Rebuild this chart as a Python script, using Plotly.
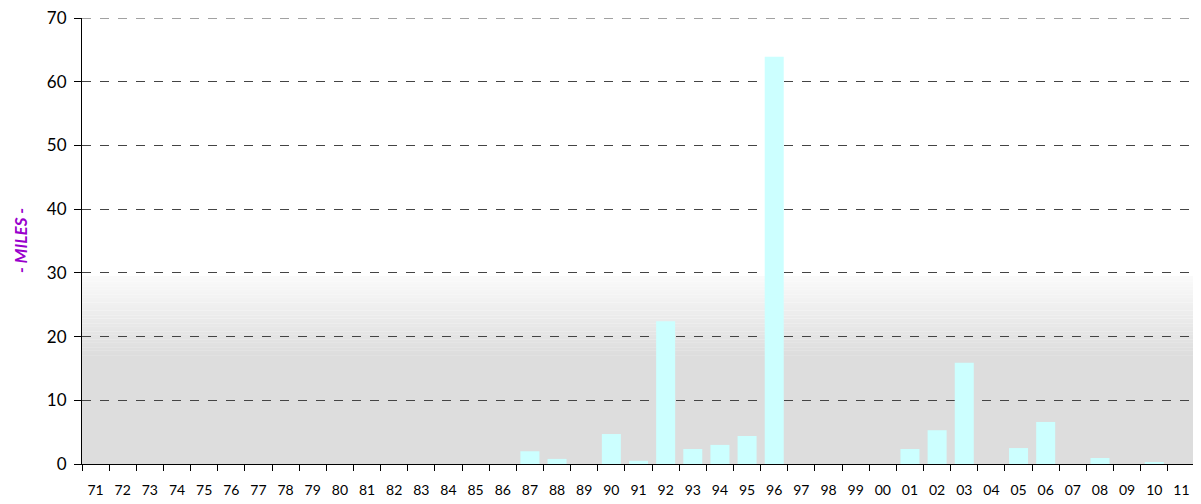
import plotly.graph_objects as go

years = ["71","72","73","74","75","76","77","78","79","80","81","82","83","84","85","86",
         "87","88","89","90","91","92","93","94","95","96","97","98","99",
         "00","01","02","03","04","05","06","07","08","09","10","11"]
miles = [0,0,0,0,0,0,0,0,0,0,0,0,0,0,0,0,
         2.0,0.8,0,4.7,0.5,22.4,2.35,3.0,4.4,63.9,0,0,0,
         0,2.35,5.3,15.9,0,2.5,6.6,0,0.94,0,0.3,0]
y_ticks = [0,10,20,30,40,50,60,70]

fig = go.Figure()
fig.add_trace(go.Bar(x=years, y=miles, marker=dict(color="#CCFFFF", line=dict(width=0)),
                     hoverinfo="x+y"))

# gradient background in lower part of plot area
shapes = []
n = 30
y0v, y1v = 17.0, 29.5
top_c, bot_c = 250, 221
for i in range(n):
    a = y0v + (y1v - y0v) * i / n
    b = y0v + (y1v - y0v) * (i + 1) / n
    t = (i + 0.5) / n
    c = int(round(bot_c + (top_c - bot_c) * t))
    shapes.append(dict(type="rect", xref="paper", yref="y", x0=0, x1=1, y0=a, y1=b + 0.02,
                       fillcolor=f"rgb({c},{c},{c})", line=dict(width=0), layer="below"))
shapes.append(dict(type="rect", xref="paper", yref="y", x0=0, x1=1, y0=0, y1=y0v + 0.02,
                   fillcolor=f"rgb({bot_c},{bot_c},{bot_c})", line=dict(width=0), layer="below"))
# top gridline at 70
shapes.append(dict(type="line", xref="paper", yref="y", x0=0, x1=1, y0=70, y1=70,
                   line=dict(color="#444444", width=1, dash="dash"), layer="above"))

fig.update_layout(
    width=1201, height=504,
    margin=dict(l=74, r=14, t=10, b=48),
    paper_bgcolor="white", plot_bgcolor="white",
    bargap=0.3, showlegend=False,
    shapes=shapes,
    font=dict(family="Lato, Open Sans, sans-serif", color="#000000"),
    xaxis=dict(type="category", showgrid=False, showline=True, linecolor="black", linewidth=1,
               ticks="outside", tickson="boundaries", ticklen=6, tickcolor="black",
               tickfont=dict(size=14), tickangle=0, ticklabelstandoff=13),
    yaxis=dict(range=[0, 70], tickvals=y_ticks, showgrid=True, gridcolor="#444444",
               griddash="dash", gridwidth=1, showline=True, linecolor="black", linewidth=1,
               ticks="outside", ticklen=7, tickcolor="black", zeroline=False,
               tickfont=dict(size=17), automargin=False, ticklabelstandoff=4,
               ticklabeloverflow="allow"),
    annotations=[dict(text="<b><i>- MILES -</i></b>", xref="paper", yref="paper",
                      x=0, y=0.5, xanchor="center", yanchor="middle", xshift=-62,
                      textangle=-90, showarrow=False, borderpad=0,
                      font=dict(size=17, color="#9900CC"))],
)
fig.write_html("out.html")
